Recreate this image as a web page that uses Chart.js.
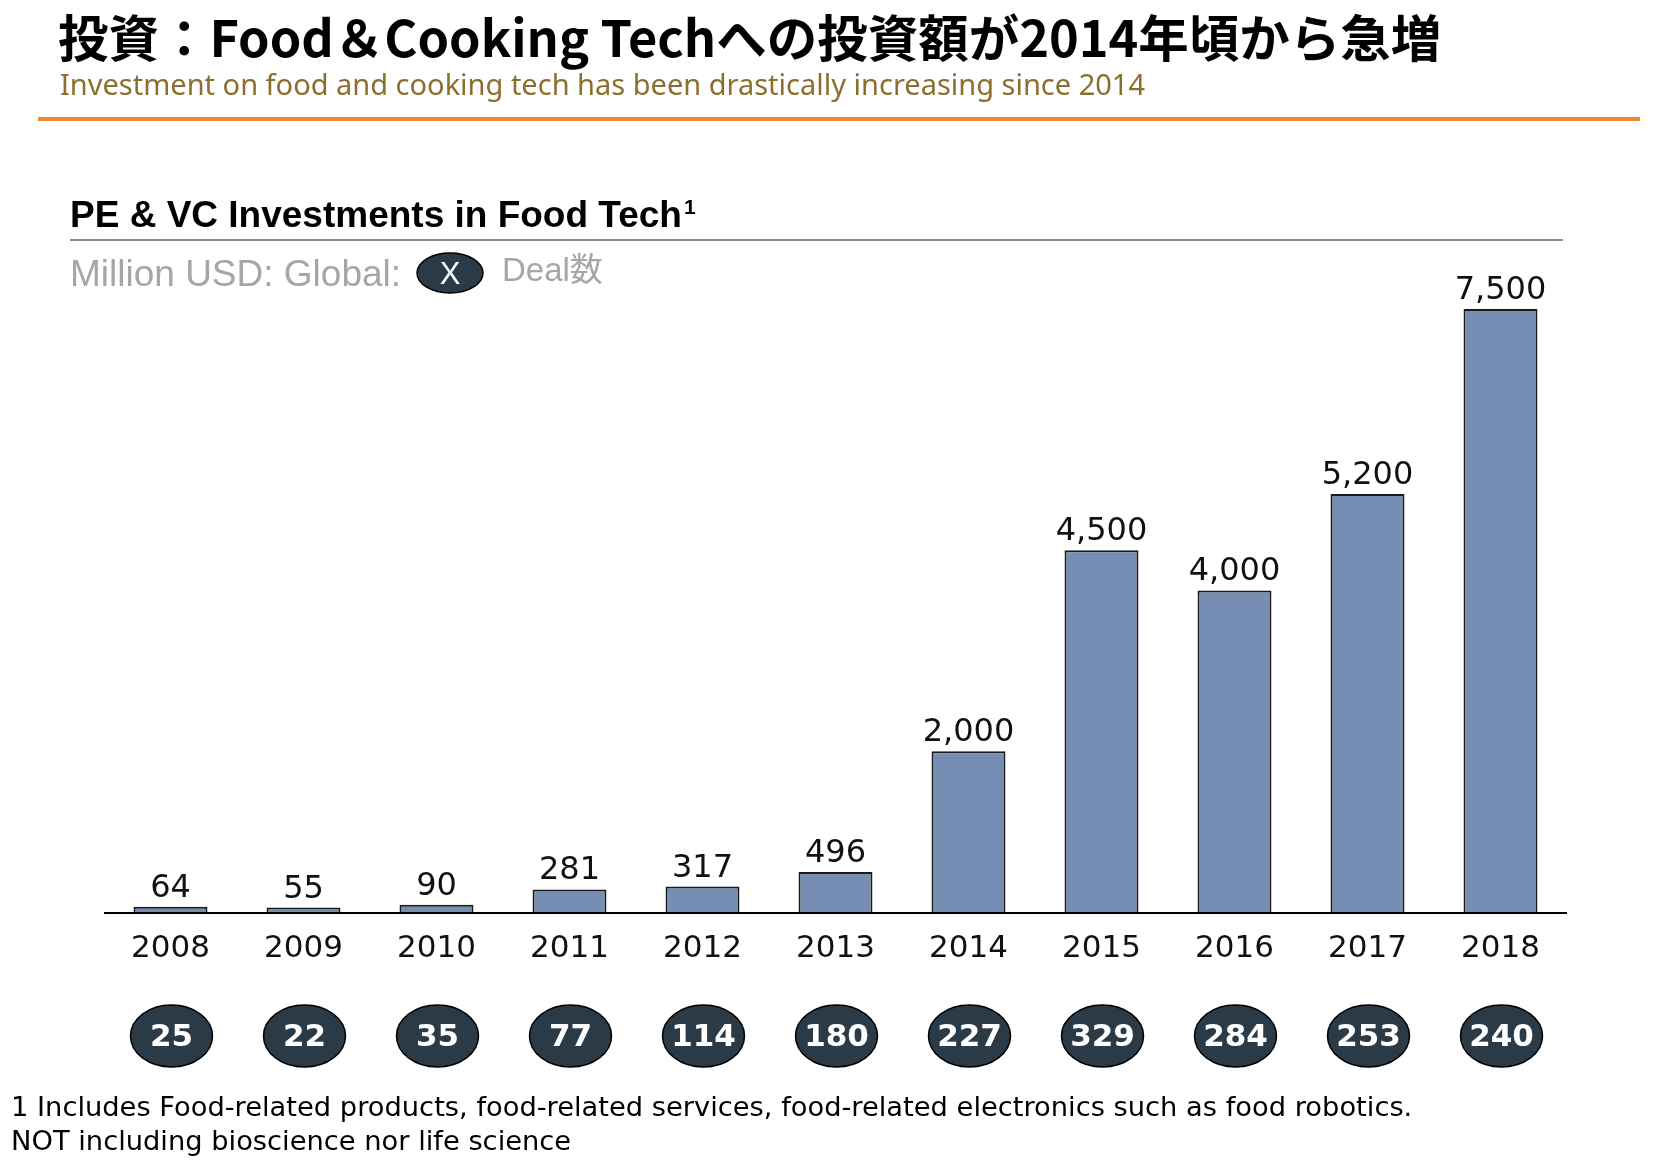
<!DOCTYPE html>
<html>
<head>
<meta charset="utf-8">
<title>PE & VC Investments in Food Tech</title>
<script src="https://cdn.jsdelivr.net/npm/chart.js@4.4.0/dist/chart.umd.min.js"></script>
<style>
    html, body { margin: 0; padding: 0; background: #ffffff; }
    #wrap { width: 1664px; height: 1169px; }
</style>
</head>
<body>
<div id="wrap"><canvas id="foodTechChart" width="1664" height="1169"></canvas></div>
<script>
// Chart data
const years = ['2008', '2009', '2010', '2011', '2012', '2013', '2014', '2015', '2016', '2017', '2018'];
const investments = [64, 55, 90, 281, 317, 496, 2000, 4500, 4000, 5200, 7500];  // Million USD
const deals = [25, 22, 35, 77, 114, 180, 227, 329, 284, 253, 240];

const titleText = '投資：Food＆Cooking Techへの投資額が2014年頃から急増';
const subtitleText = 'Investment on food and cooking tech has been drastically increasing since 2014';
const chartTitle = 'PE & VC Investments in Food Tech';
const footnotes = [
    '1 Includes Food-related products, food-related services, food-related electronics such as food robotics.',
    'NOT including bioscience nor life science'
];

const DEAL_FILL = '#2b3a47';

function dealBubble(ctx, cx, cy, rx, ry, label, font) {
    ctx.beginPath();
    ctx.ellipse(cx, cy, rx, ry, 0, 0, Math.PI * 2);
    ctx.fillStyle = DEAL_FILL;
    ctx.fill();
    ctx.lineWidth = 1.5;
    ctx.strokeStyle = '#000';
    ctx.stroke();
    ctx.fillStyle = '#fff';
    ctx.font = font;
    ctx.textAlign = 'center';
    ctx.textBaseline = 'middle';
    ctx.fillText(label, cx, cy + 2);
}

/**
 * Draws headings, axis line, value labels, years, deal bubbles and footnotes
 */
const decorations = {
    id: 'decorations',
    afterDatasetsDraw(chart) {
        const ctx = chart.ctx;
        const area = chart.chartArea;
        const xScale = chart.scales.x;
        ctx.save();

        // page heading
        ctx.textAlign = 'left';
        ctx.textBaseline = 'middle';
        ctx.fillStyle = '#000';
        ctx.font = 'bold 50.5px "Noto Sans CJK JP"';
        ctx.fillText(titleText, 58, 38);
        ctx.fillStyle = '#8b6f2e';
        ctx.font = '29px "Noto Sans"';
        ctx.fillText(subtitleText, 60, 87);

        ctx.fillStyle = '#f08a30';
        ctx.fillRect(38, 117, 1602, 4);

        // chart heading
        ctx.fillStyle = '#000';
        ctx.font = 'bold 37px "Liberation Sans"';
        ctx.fillText(chartTitle, 70, 217);
        const tw = ctx.measureText(chartTitle).width;
        ctx.font = 'bold 21px "Liberation Sans"';
        ctx.fillText('1', 70 + tw + 2, 208);

        ctx.fillStyle = '#8c8c8c';
        ctx.fillRect(70, 239, 1493, 2);

        ctx.fillStyle = '#a6a6a6';
        ctx.font = '37px "Liberation Sans"';
        ctx.fillText('Million USD: Global:', 70, 276);
        dealBubble(ctx, 450, 273, 33, 20, 'X', '31px "Liberation Sans"');
        ctx.fillStyle = '#a6a6a6';
        ctx.font = '33px "Liberation Sans", "Noto Sans CJK JP"';
        ctx.textAlign = 'left';
        ctx.fillText('Deal数', 502, 272);

        // x axis line
        ctx.strokeStyle = '#000';
        ctx.lineWidth = 2;
        ctx.beginPath();
        ctx.moveTo(area.left, area.bottom + 1);
        ctx.lineTo(area.right, area.bottom + 1);
        ctx.stroke();

        // value labels above bars
        ctx.fillStyle = '#111';
        ctx.font = '32px "DejaVu Sans"';
        ctx.textAlign = 'center';
        ctx.textBaseline = 'alphabetic';
        chart.getDatasetMeta(0).data.forEach(function(bar, i) {
            ctx.fillText(investments[i].toLocaleString('en-US'), bar.x, bar.y - 10);
        });

        // year labels and deal counts
        years.forEach(function(year, i) {
            const cx = xScale.getPixelForValue(i);
            ctx.fillStyle = '#111';
            ctx.font = '31px "DejaVu Sans"';
            ctx.textAlign = 'center';
            ctx.textBaseline = 'alphabetic';
            ctx.fillText(year, cx, 957);
            dealBubble(ctx, cx + 1, 1036, 41, 31, String(deals[i]), 'bold 31px "DejaVu Sans"');
        });

        // footnotes
        ctx.fillStyle = '#000';
        ctx.font = '27.3px "DejaVu Sans"';
        ctx.textAlign = 'left';
        ctx.textBaseline = 'middle';
        ctx.fillText(footnotes[0], 11, 1109);
        ctx.fillText(footnotes[1], 11, 1143);

        ctx.restore();
    }
};

new Chart(document.getElementById('foodTechChart'), {
    type: 'bar',
    data: {
        labels: years,
        datasets: [{
            label: 'Investments',
            data: investments,
            backgroundColor: '#768db4',
            borderColor: '#1a1a1a',
            borderWidth: 2,
            borderSkipped: 'bottom',
            barPercentage: 0.556,
            categoryPercentage: 1.0,
            clip: false
        }]
    },
    options: {
        responsive: false,
        animation: false,
        layout: {
            padding: { left: 104, right: 97, top: 309, bottom: 257 }
        },
        scales: {
            x: { display: false },
            y: { display: false, min: 0, max: 7500 }
        },
        plugins: {
            legend: { display: false },
            tooltip: { enabled: false }
        }
    },
    plugins: [decorations]
});
</script>
</body>
</html>
